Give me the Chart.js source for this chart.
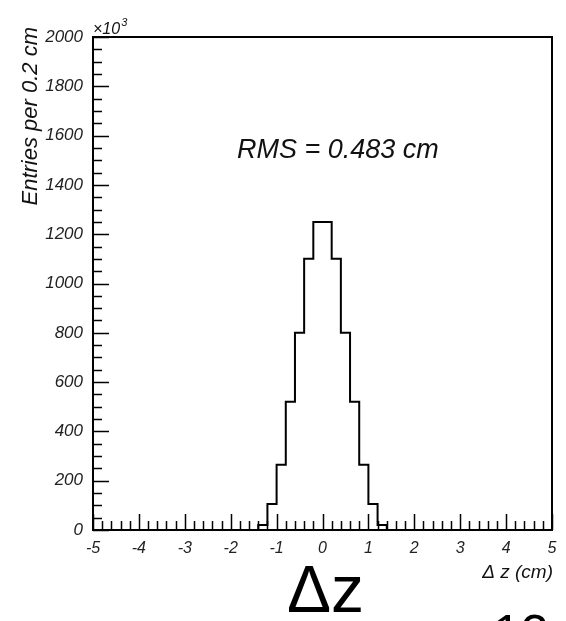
<!DOCTYPE html>
<html>
<head>
<meta charset="utf-8">
<script src="https://cdn.jsdelivr.net/npm/chart.js@4.4.1/dist/chart.umd.min.js"></script>
<style>
  html, body { margin: 0; padding: 0; background: #fff; }
  canvas { display: block; }
</style>
</head>
<body>
<canvas id="myChart" width="566" height="621"></canvas>
<script>
// Histogram: low edge of each bin (cm) and entries (x10^3 per 0.2 cm).
// The first and last entries cover the empty ranges out to -5 and 5.
const binLowEdges = [-5, -1.4, -1.2, -1.0, -0.8, -0.6, -0.4, -0.2, 0, 0.2, 0.4, 0.6, 0.8, 1.0, 1.2, 1.4, 5];
const entries     = [0, 20, 105, 265, 520, 800, 1100, 1250, 1250, 1100, 800, 520, 265, 105, 20, 0, 0];

// axis tick labels
const xTicks = [-5, -4, -3, -2, -1, 0, 1, 2, 3, 4, 5];
const yTicks = [0, 200, 400, 600, 800, 1000, 1200, 1400, 1600, 1800, 2000];
const xMinorStep = 0.2;
const yMinorStep = 50;

const labelFont = '"Liberation Sans", Arial, sans-serif';

// frame, inward ticks and the extra texts (ROOT style)
const rootFrame = {
  id: 'rootFrame',
  afterDraw(chart) {
    const ctx = chart.ctx;
    const a = chart.chartArea;
    const xs = chart.scales.x, ys = chart.scales.y;
    ctx.save();
    ctx.strokeStyle = '#000';

    // ticks
    ctx.lineWidth = 1.5;
    ctx.beginPath();
    for (let v = xTicks[0]; v <= xTicks[xTicks.length - 1] + 1e-9; v += xMinorStep) {
      const px = Math.round(xs.getPixelForValue(v)) + 0.5;
      const major = Math.abs(v - Math.round(v)) < 1e-6;
      ctx.moveTo(px, a.bottom);
      ctx.lineTo(px, a.bottom - (major ? 16 : 9));
    }
    for (let v = yTicks[0]; v <= yTicks[yTicks.length - 1]; v += yMinorStep) {
      const py = Math.round(ys.getPixelForValue(v)) + 0.5;
      const major = v % 200 === 0;
      ctx.moveTo(a.left, py);
      ctx.lineTo(a.left + (major ? 16 : 9), py);
    }
    ctx.stroke();

    // frame
    ctx.lineWidth = 2;
    ctx.strokeRect(a.left, a.top, a.right - a.left, a.bottom - a.top);

    ctx.fillStyle = '#111';
    ctx.textBaseline = 'alphabetic';

    // x10^3 multiplier
    ctx.font = 'italic 16px ' + labelFont;
    ctx.textAlign = 'left';
    ctx.fillText('\u00d710', a.left, a.top - 3);
    const w = ctx.measureText('\u00d710').width;
    ctx.font = 'italic 11px ' + labelFont;
    ctx.fillText('3', a.left + w + 1, a.top - 11);

    // y title
    ctx.save();
    ctx.translate(37, 27);
    ctx.rotate(-Math.PI / 2);
    ctx.font = 'italic 22px ' + labelFont;
    ctx.textAlign = 'right';
    ctx.fillText('Entries per 0.2 cm', 0, 0);
    ctx.restore();

    // RMS text
    ctx.font = 'italic 27px ' + labelFont;
    ctx.textAlign = 'left';
    ctx.fillText('RMS = 0.483 cm', 237, 158);

    // x title
    ctx.font = 'italic 19px ' + labelFont;
    ctx.textAlign = 'right';
    ctx.fillText('\u0394 z (cm)', a.right + 1, 578);

    // slide text below the plot (page number is cut off at the bottom)
    ctx.fillStyle = '#000';
    ctx.font = '66px ' + labelFont;
    ctx.textAlign = 'left';
    ctx.fillText('\u0394z', 287, 612);
    ctx.font = '50px ' + labelFont;
    ctx.fillText('12', 493, 650);

    ctx.restore();
  }
};

const points = binLowEdges.map((x, i) => ({ x: x, y: entries[i] }));

const ctx = document.getElementById('myChart').getContext('2d');
const myChart = new Chart(ctx, {
  type: 'line',
  data: {
    datasets: [{
      label: 'Entries',
      data: points,
      stepped: true,
      borderColor: '#000',
      borderWidth: 2,
      pointRadius: 0,
      fill: false
    }]
  },
  options: {
    responsive: false,
    animation: false,
    layout: { padding: { left: 0, right: 14, top: 37, bottom: 0 } },
    plugins: {
      legend: { display: false },
      tooltip: { enabled: false }
    },
    scales: {
      x: {
        type: 'linear',
        min: -5,
        max: 5,
        grid: { display: false, drawTicks: false },
        border: { display: false },
        afterBuildTicks: s => { s.ticks = xTicks.map(v => ({ value: v })); },
        afterFit: s => { s.height = 91; },
        ticks: {
          autoSkip: false,
          maxRotation: 0,
          padding: 9,
          color: '#222',
          font: { family: labelFont, size: 16, style: 'italic' },
          callback: v => String(v)
        }
      },
      y: {
        min: 0,
        max: 2000,
        grid: { display: false, drawTicks: false },
        border: { display: false },
        afterBuildTicks: s => { s.ticks = yTicks.map(v => ({ value: v })); },
        afterFit: s => { s.width = 93; },
        ticks: {
          padding: 10,
          color: '#222',
          font: { family: labelFont, size: 17, style: 'italic' },
          callback: v => String(v)
        }
      }
    }
  },
  plugins: [rootFrame]
});
</script>
</body>
</html>
